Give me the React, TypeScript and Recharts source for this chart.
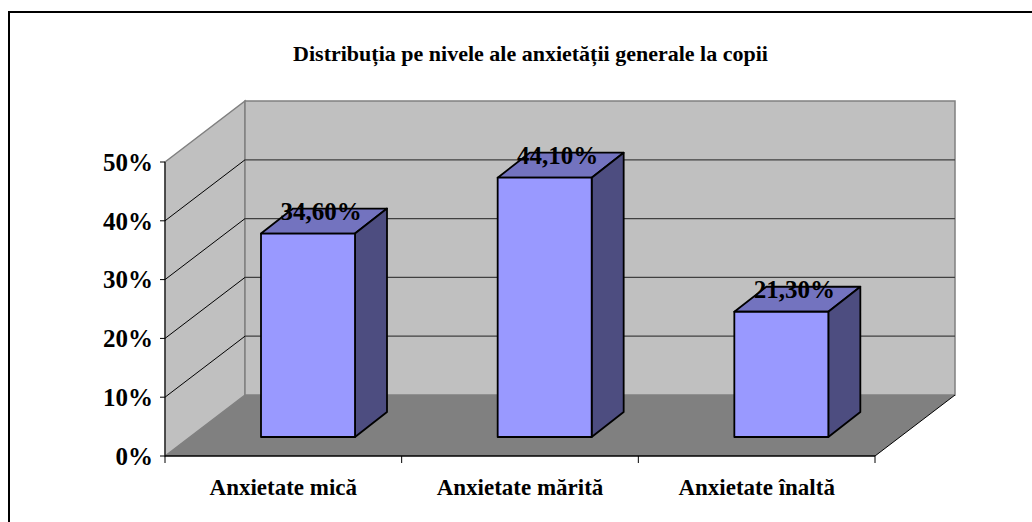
import React from "react";
import { BarChart, Bar, XAxis, YAxis, ReferenceArea, LabelList } from "recharts";

const chartTitle = "Distribuția pe nivele ale anxietății generale la copii";
const categories = ["Anxietate mică", "Anxietate mărită", "Anxietate înaltă"];
const values = [34.6, 44.1, 21.3];
const valueLabels = ["34,60%", "44,10%", "21,30%"];
const yTicks = [0, 10, 20, 30, 40, 50];

const data = categories.map((name, i) => ({ name, value: values[i], label: valueLabels[i] }));

const FONT = "'Liberation Serif', 'Times New Roman', serif";
const W = 1032;
const H = 522;
const PLOT = { left: 165, right: 875, top: 162, bottom: 456 };
const WALL_DX = 80;
const WALL_DY = 61;
const BAR_DX = 25;
const BAR_DY = 19;
const BOX_DX = 32;
const BOX_DY = 25;
const BAND = (PLOT.right - PLOT.left) / categories.length;

function Room(props: any) {
  const { x, y, width, height } = props;
  const bottom = y + height;
  const right = x + width;
  const yOf = (t: number) => bottom - (t / 50) * height;
  return (
    <g>
      <polygon
        points={`${x},${y} ${x + WALL_DX},${y - WALL_DY} ${x + WALL_DX},${bottom - WALL_DY} ${x},${bottom}`}
        fill="#C0C0C0"
        stroke="#808080"
        strokeWidth={1.5}
      />
      <rect
        x={x + WALL_DX}
        y={y - WALL_DY}
        width={width}
        height={height}
        fill="#C0C0C0"
        stroke="#808080"
        strokeWidth={1.5}
      />
      <polygon
        points={`${x},${bottom} ${right},${bottom} ${right + WALL_DX},${bottom - WALL_DY} ${x + WALL_DX},${bottom - WALL_DY}`}
        fill="#808080"
      />
      {yTicks
        .filter((t) => t > 0 && t < 50)
        .map((t) => (
          <g key={t}>
            <line x1={x} y1={yOf(t)} x2={x + WALL_DX} y2={yOf(t) - WALL_DY} stroke="#000" strokeWidth={1} />
            <line
              x1={x + WALL_DX}
              y1={yOf(t) - WALL_DY}
              x2={right + WALL_DX}
              y2={yOf(t) - WALL_DY}
              stroke="#404040"
              strokeWidth={1.2}
            />
          </g>
        ))}
      <line x1={right} y1={bottom} x2={right + WALL_DX} y2={bottom - WALL_DY} stroke="#000" strokeWidth={1} />
    </g>
  );
}

function Box(props: any) {
  const { x, y, width, height } = props;
  const fx = x + BAR_DX;
  const fy = y - BAR_DY;
  const r = fx + width;
  const b = fy + height;
  const stroke = { stroke: "#000", strokeWidth: 1.8, strokeLinejoin: "round" as const };
  return (
    <g>
      <polygon
        points={`${fx},${fy} ${r},${fy} ${r + BOX_DX},${fy - BOX_DY} ${fx + BOX_DX},${fy - BOX_DY}`}
        fill="#7373BF"
        {...stroke}
      />
      <polygon
        points={`${r},${fy} ${r + BOX_DX},${fy - BOX_DY} ${r + BOX_DX},${b - BOX_DY} ${r},${b}`}
        fill="#4D4D80"
        {...stroke}
      />
      <rect x={fx} y={fy} width={width} height={height} fill="#9999FF" {...stroke} />
    </g>
  );
}

function ValueLabel(props: any) {
  const { x, y, width, index } = props;
  return (
    <text
      x={x + BAR_DX + width / 2 + 13}
      y={y - BAR_DY - 14}
      textAnchor="middle"
      fontFamily={FONT}
      fontWeight="bold"
      fontSize={25}
      fill="#000"
    >
      {valueLabels[index]}
    </text>
  );
}

function CategoryTick(props: any) {
  const { x, y, payload, index } = props;
  return (
    <g>
      <line x1={x - BAND / 2} y1={PLOT.bottom} x2={x - BAND / 2} y2={PLOT.bottom + 7} stroke="#000" />
      {index === categories.length - 1 && (
        <line x1={x + BAND / 2} y1={PLOT.bottom} x2={x + BAND / 2} y2={PLOT.bottom + 7} stroke="#000" />
      )}
      <text x={x} y={PLOT.bottom + 39} textAnchor="middle" fontFamily={FONT} fontWeight="bold" fontSize={23} fill="#000">
        {payload.value}
      </text>
    </g>
  );
}

export default function App() {
  return (
    <div style={{ position: "absolute", left: 0, top: 0, width: W, height: H, background: "#fff", overflow: "hidden" }}>
      <div
        style={{
          position: "absolute",
          left: 8,
          top: 11,
          width: W,
          height: H,
          borderLeft: "2px solid #000",
          borderTop: "2px solid #000",
        }}
      />
      <div
        style={{
          position: "absolute",
          left: 0,
          width: 1061,
          top: 40,
          textAlign: "center",
          fontFamily: FONT,
          fontWeight: "bold",
          fontSize: 22,
          lineHeight: "28px",
          color: "#000",
        }}
      >
        {chartTitle}
      </div>
      <div style={{ position: "absolute", left: 0, top: 0 }}>
        <BarChart
          width={W}
          height={H}
          data={data}
          barSize={94}
          margin={{ left: 105, right: W - PLOT.right, top: PLOT.top, bottom: H - PLOT.bottom - 40 }}
        >
          <ReferenceArea y1={0} y2={50} shape={Room} ifOverflow="visible" zIndex={-200} />
          <XAxis
            dataKey="name"
            height={40}
            axisLine={{ stroke: "#000", strokeWidth: 1.5 }}
            tickLine={false}
            tick={CategoryTick}
            interval={0}
          />
          <YAxis
            type="number"
            domain={[0, 50]}
            ticks={yTicks}
            width={60}
            tickSize={5}
            tickMargin={7}
            tickFormatter={(v: number) => `${v}%`}
            axisLine={{ stroke: "#000" }}
            tickLine={{ stroke: "#000" }}
            tick={{ fontFamily: FONT, fontWeight: "bold", fontSize: 25, fill: "#000" }}
          />
          <Bar dataKey="value" isAnimationActive={false} shape={Box}>
            <LabelList dataKey="label" content={ValueLabel} />
          </Bar>
        </BarChart>
      </div>
    </div>
  );
}
